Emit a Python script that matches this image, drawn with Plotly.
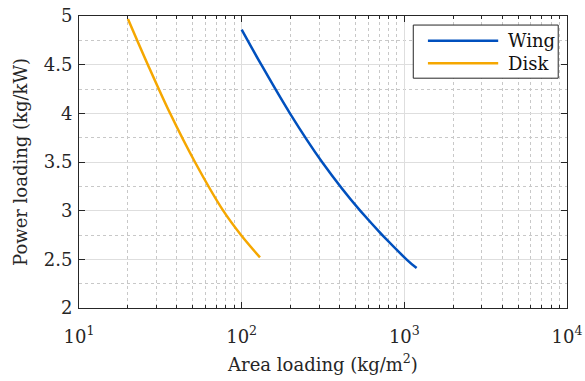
import plotly.graph_objects as go

# Power loading vs. area loading
wing_area = [100, 132, 198, 312, 535, 1030, 1190]
wing_power = [4.86, 4.5, 4.0, 3.5, 3.0, 2.5, 2.41]

disk_area = [20, 26.5, 36.3, 51.6, 77.0, 99.0, 129.6]
disk_power = [4.97, 4.5, 4.0, 3.5, 3.0, 2.75, 2.52]

series_names = ["Wing", "Disk"]
series_colors = ["#0050BE", "#F5A700"]

x_major = [10, 100, 1000, 10000]
x_major_text = ["10<sup>1</sup>", "10<sup>2</sup>", "10<sup>3</sup>", "10<sup>4</sup>"]
x_minor = [m * d for d in (10, 100, 1000) for m in range(2, 10)]
y_major = [2, 2.5, 3, 3.5, 4, 4.5, 5]
y_minor = [2.25, 2.75, 3.25, 3.75, 4.25, 4.75]

FONT = "DejaVu Serif"
AXIS_COLOR = "#262626"
TEXT_SIZE = 18

fig = go.Figure()
for name, xs, ys, color in [
    (series_names[0], wing_area, wing_power, series_colors[0]),
    (series_names[1], disk_area, disk_power, series_colors[1]),
]:
    fig.add_trace(go.Scatter(
        x=xs, y=ys, name=name, mode="lines",
        line=dict(color=color, width=2.5, shape="spline", smoothing=1.0),
        showlegend=False,
    ))

axis_common = dict(
    showline=True, linecolor=AXIS_COLOR, linewidth=1, mirror="allticks",
    ticks="inside", tickcolor=AXIS_COLOR, tickwidth=1,
    showgrid=True, gridcolor="#dedede", gridwidth=1,
    zeroline=False, automargin=False,
    tickfont=dict(family=FONT, size=TEXT_SIZE, color=AXIS_COLOR),
)

fig.update_xaxes(
    type="log", range=[1, 4],
    tickmode="array", tickvals=x_major, ticktext=x_major_text, ticklen=6,
    ticklabelstandoff=12,
    minor=dict(tickmode="array", tickvals=x_minor, ticks="inside", ticklen=3,
               tickcolor=AXIS_COLOR, showgrid=True, gridcolor="#c8c8c8",
               griddash="dot", gridwidth=1),
    title=dict(text="Area loading (kg/m<sup>2</sup>)",
               font=dict(family=FONT, size=TEXT_SIZE, color=AXIS_COLOR), standoff=12),
    **axis_common,
)
fig.update_yaxes(
    range=[2, 5],
    tickmode="array", tickvals=y_major, ticktext=[f"{v:g}" for v in y_major], ticklen=6,
    ticklabelstandoff=2,
    minor=dict(tickmode="array", tickvals=y_minor, ticks="", showgrid=True,
               gridcolor="#c8c8c8", griddash="dot", gridwidth=1),
    title=dict(text="Power loading (kg/kW)",
               font=dict(family=FONT, size=TEXT_SIZE, color=AXIS_COLOR), standoff=11),
    **axis_common,
)

# Boxed legend in the upper right corner
shapes = [dict(type="rect", xref="paper", yref="paper", x0=0.685, x1=0.982,
               y0=0.787, y1=0.969, line=dict(color=AXIS_COLOR, width=1),
               fillcolor="white", layer="above")]
annotations = []
for i, (name, color) in enumerate(zip(series_names, series_colors)):
    yy = 0.915 - i * 0.077
    shapes.append(dict(type="line", xref="paper", yref="paper", x0=0.715, x1=0.859,
                       y0=yy, y1=yy, line=dict(color=color, width=2.5), layer="above"))
    annotations.append(dict(xref="paper", yref="paper", x=0.876, y=yy, text=name,
                            showarrow=False, xanchor="left", yanchor="middle",
                            font=dict(family=FONT, size=TEXT_SIZE, color="#111111")))

fig.update_layout(
    width=585, height=381,
    margin=dict(l=79, r=18, t=16, b=73),
    paper_bgcolor="white", plot_bgcolor="white",
    shapes=shapes, annotations=annotations,
)

fig.write_html("out.html")
